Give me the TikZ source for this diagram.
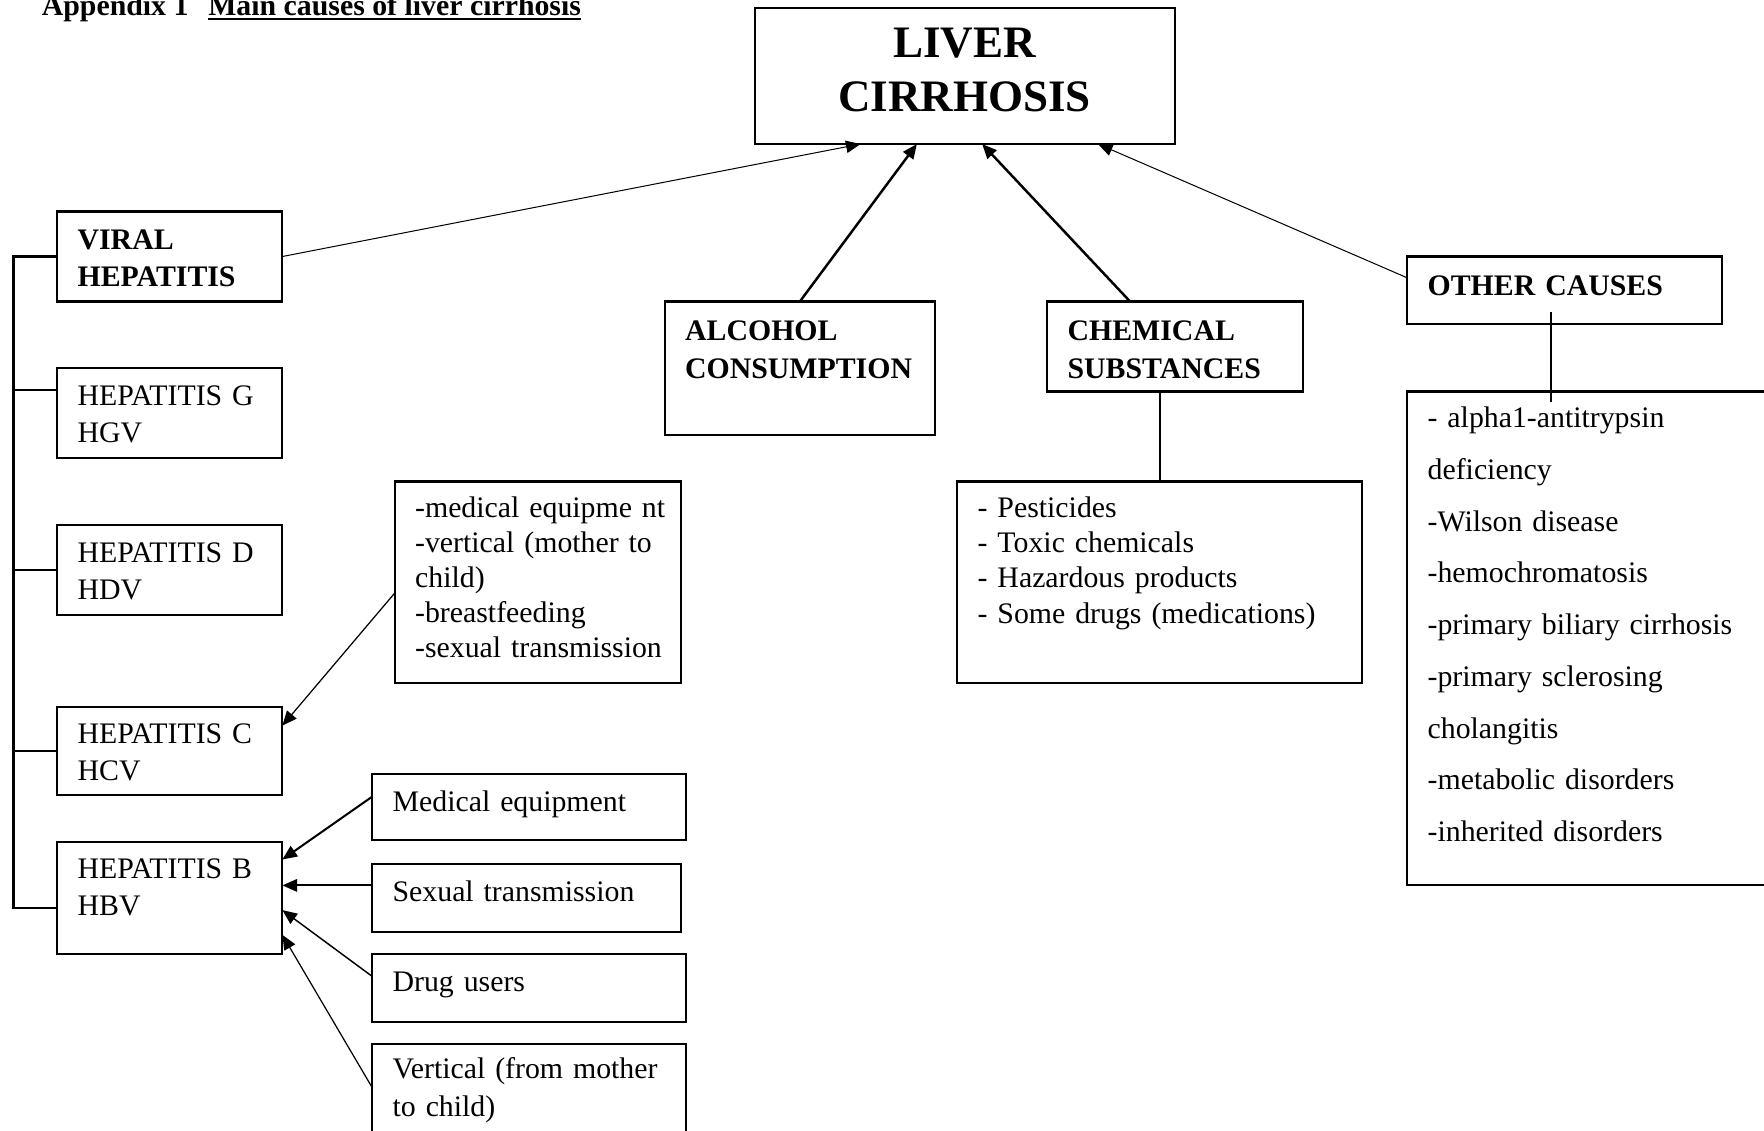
\documentclass[tikz,border=0pt]{standalone}
\usepackage{fontspec}
\setmainfont{Liberation Serif}
\usetikzlibrary{arrows.meta, positioning, calc}

\tikzset{
    box/.style={draw, line width=1.8pt, anchor=north west, align=left,
        inner xsep=18pt, inner ysep=0pt, outer sep=0pt, text height=33pt,
        execute at begin node={\hyphenpenalty=10000 \exhyphenpenalty=10000 }},
    leaf/.style={box, font=\fontsize{26.5}{33}\selectfont},
    cause/.style={box, font=\fontsize{26.5}{33}\selectfont\bfseries},
    headline/.style={anchor=base west, inner sep=0pt, font=\fontsize{26.5}{30}\selectfont\bfseries},
}

\begin{document}
\begin{tikzpicture}[x=1pt, y=-1pt, >={Triangle[length=13pt, width=11pt]}]
        \path[use as bounding box, fill=white] (0,0) rectangle (1568,1005);

        % heading
        \node[headline] (appx) at (37,14) {Appendix 1};
        \node[headline] (mcause) at (185,14) {Main causes of liver cirrhosis};
        \draw[line width=1.5pt] ([yshift=-3pt]mcause.base west) -- ([yshift=-3pt]mcause.base east);

        % main box
        \node[cause, align=center, text width=337pt, text height=44pt, text depth=77pt,
            font=\fontsize{40}{48}\selectfont\bfseries] (liver) at (671,7) {LIVER\\CIRRHOSIS};

        % causes
        \node[cause, text width=164pt, text height=34pt, text depth=46pt] (viral) at (51,188) {VIRAL\\HEPATITIS};
        \node[cause, text width=204pt, text height=35pt, text depth=84pt] (alcohol) at (591,268) {ALCOHOL\\CONSUMPTION};
        \node[cause, text width=191pt, text height=35pt, text depth=45pt] (chem) at (931,268) {CHEMICAL\\SUBSTANCES};
        \node[cause, text width=244pt, text height=35pt, text depth=25pt] (ocause) at (1251,228) {OTHER CAUSES};

        % hepatitis types
        \node[leaf, text width=164pt, text depth=47pt] (hepg) at (51,327) {HEPATITIS G\\HGV};
        \node[leaf, text width=164pt, text depth=47pt] (hepd) at (51,467) {HEPATITIS D\\HDV};
        \node[leaf, text width=164pt, text depth=46pt] (hepc) at (51,628) {HEPATITIS C\\HCV};
        \node[leaf, text width=164pt, text depth=67pt] (hepb) at (51,748) {HEPATITIS B\\HBV};

        % transmission routes
        \node[leaf, text width=218pt, text height=32pt, text depth=147pt,
            font=\fontsize{26.5}{31}\selectfont] (hcsrc) at (351,428)
            {-medical~equipme~nt\\-vertical (mother to\\child)\\-breastfeeding\\-sexual~transmission};
        \node[leaf, text width=243pt, text depth=26pt] (hbmed) at (331,688) {Medical equipment};
        \node[leaf, text width=238pt, text depth=27pt] (hbsex) at (331,768) {Sexual transmission};
        \node[leaf, text width=243pt, text depth=27pt] (hbdrug) at (331,848) {Drug users};
        \node[leaf, text width=243pt, text height=31pt, text depth=69pt] (hbvert) at (331,928) {Vertical (from mother\\to child)};

        % lists
        \node[leaf, text width=324pt, text height=32pt, text depth=147pt,
            font=\fontsize{26.5}{31.3}\selectfont] (clist) at (851,428)
            {- Pesticides\\- Toxic chemicals\\- Hazardous products\\- Some drugs (medications)};
        \node[leaf, text width=324pt, text height=32pt, text depth=407pt,
            font=\fontsize{26.5}{46}\selectfont] (olist) at (1251,348)
            {- alpha1-antitrypsin\\deficiency\\-Wilson disease\\-hemochromatosis\\-primary biliary cirrhosis\\-primary sclerosing\\cholangitis\\-metabolic disorders\\-inherited disorders};

        % bracket of the viral group
        \coordinate (spine) at (12,0);
        \coordinate (hgtick) at ([yshift=20pt]hepg.west);
        \coordinate (hbtick) at ([yshift=-9pt]hepb.west);
        \draw[line width=1.8pt] (viral.west) -| (spine |- hbtick) -- (hbtick);
        \foreach \t in {hgtick, hepd.west, hepc.west}
            \draw[line width=1.8pt] (\t) -- (\t -| spine);

        % arrows into liver cirrhosis
        \draw[->, line width=0.9pt] (viral.east) -- ([xshift=-92.5pt]liver.south);
        \draw[->, line width=2.2pt] (alcohol.north) -- ([xshift=-42.5pt]liver.south);
        \draw[->, line width=2.2pt] ([xshift=-40pt]chem.north) -- ([xshift=15.5pt]liver.south);
        \draw[->, line width=0.9pt] ([yshift=11pt]ocause.west) -- ([xshift=118.5pt]liver.south);

        % lists hanging below
        \draw[line width=1.8pt] (clist.north) -- (clist.north |- chem.south);
        \coordinate (oc1) at ([xshift=-12pt, yshift=11pt]ocause.south);
        \coordinate (oc2) at (oc1 |- olist.north);
        \draw[line width=1.8pt] (oc1) -- ([yshift=-9pt]oc2);

        % routes into hepatitis C and B
        \draw[->, line width=1.1pt] ([yshift=-9.5pt]hcsrc.west) -- ([yshift=-17pt]hepc.north east);
        \foreach \src/\sy/\ty/\lw in {hbmed/9.5/-16/1.8, hbsex/11/-39/1.6, hbdrug/10/-61/1.3, hbvert/11/-83/1.1}
            \draw[->, line width=\lw pt] ([yshift=\sy pt]\src.west) -- ([yshift=\ty pt]hepb.north east);

    \end{tikzpicture}
\end{document}
